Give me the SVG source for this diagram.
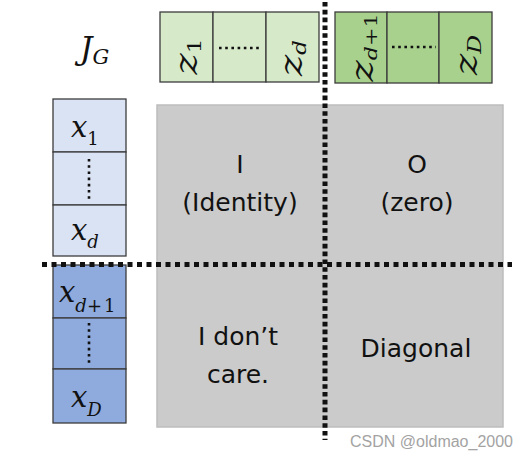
<svg xmlns="http://www.w3.org/2000/svg" width="530" height="460" viewBox="0 0 530 460">
<style>
.cell{stroke:#3c3c3c;stroke-width:1.3}
.g1{fill:#d6e9c9}
.g2{fill:#a9d18e}
.b1{fill:#dae3f3}
.b2{fill:#8faadc}
.m{font-family:"DejaVu Serif","Liberation Serif",serif;font-style:italic;fill:#111}
.up{font-style:normal}
.q{font-family:"DejaVu Sans",sans-serif;font-size:25px;fill:#111;text-anchor:middle}
.sd{stroke:#111;stroke-width:2.6;stroke-dasharray:2.6 3.6;fill:none}
.bd{stroke:#111;stroke-width:5;fill:none}
</style>
<rect x="0" y="0" width="530" height="460" fill="#ffffff"/>
<g id="matrix">
<rect x="157" y="105" width="346" height="322" fill="#cbcbcb" stroke="#bdbdbd" stroke-width="1.5"/>
</g>
<g id="label-JG">
<text class="m" x="80" y="59" font-size="31">J<tspan font-size="21" dy="5">G</tspan></text>
</g>
<g id="z-first">
<rect class="cell g1" x="160" y="12" width="53" height="70"/>
<rect class="cell g1" x="213" y="12" width="53" height="70"/>
<rect class="cell g1" x="266" y="12" width="53" height="70"/>
<line class="sd" x1="219" y1="48" x2="262" y2="48"/>
<text class="m" font-size="31" text-anchor="middle" transform="translate(197,56.5) rotate(-90) scale(1.3,1)">z<tspan class="up" font-size="18" dy="4">1</tspan></text>
<text class="m" font-size="31" text-anchor="middle" transform="translate(302,58) rotate(-90) scale(1.3,1)">z<tspan font-size="18" dy="4">d</tspan></text>
</g>
<g id="z-second">
<rect class="cell g2" x="335" y="12" width="52" height="71"/>
<rect class="cell g2" x="387" y="12" width="52" height="71"/>
<rect class="cell g2" x="439" y="12" width="53" height="71"/>
<line class="sd" x1="392" y1="47" x2="436" y2="47"/>
<text class="m" font-size="31" text-anchor="middle" transform="translate(373,47.5) rotate(-90) scale(1.3,1)">z<tspan font-size="17" dy="4">d</tspan><tspan class="up" font-size="17">+1</tspan></text>
<text class="m" font-size="31" text-anchor="middle" transform="translate(477,55) rotate(-90) scale(1.3,1)">z<tspan font-size="18" dy="4">D</tspan></text>
</g>
<g id="x-first">
<rect class="cell b1" x="53" y="99" width="73" height="53"/>
<rect class="cell b1" x="53" y="152" width="73" height="53"/>
<rect class="cell b1" x="53" y="205" width="73" height="51"/>
<line class="sd" x1="89" y1="159" x2="89" y2="201"/>
<text class="m" font-size="29" x="71" y="137">x<tspan class="up" font-size="18" dy="8">1</tspan></text>
<text class="m" font-size="29" x="71" y="240">x<tspan font-size="18" dy="8">d</tspan></text>
</g>
<g id="x-second">
<rect class="cell b2" x="53" y="265" width="73" height="53"/>
<rect class="cell b2" x="53" y="318" width="73" height="51"/>
<rect class="cell b2" x="53" y="369" width="73" height="54"/>
<line class="sd" x1="89" y1="323" x2="89" y2="366"/>
<text class="m" font-size="29" x="59" y="302">x<tspan font-size="18" dy="10">d</tspan><tspan class="up" font-size="18" letter-spacing="2">+1</tspan></text>
<text class="m" font-size="29" x="71" y="407">x<tspan font-size="18" dy="9">D</tspan></text>
</g>
<g id="connectors">
<line class="bd" x1="325" y1="2" x2="325" y2="440" stroke-dasharray="4.6 3.2"/>
<line class="bd" x1="42" y1="264.5" x2="512" y2="264.5" stroke-dasharray="5 4.5"/>
</g>
<g id="q-identity">
<text class="q" x="240" y="173">I</text>
<text class="q" x="240" y="211">(Identity)</text>
</g>
<g id="q-zero">
<text class="q" x="417" y="173">O</text>
<text class="q" x="417" y="211">(zero)</text>
</g>
<g id="q-dontcare">
<text class="q" x="238" y="345">I don’t</text>
<text class="q" x="238" y="383">care.</text>
</g>
<g id="q-diagonal">
<text class="q" x="416" y="357">Diagonal</text>
</g>
<text x="350" y="447" font-family="Liberation Sans,sans-serif" font-size="16" fill="#a3a3a3">CSDN @oldmao_2000</text>
</svg>
